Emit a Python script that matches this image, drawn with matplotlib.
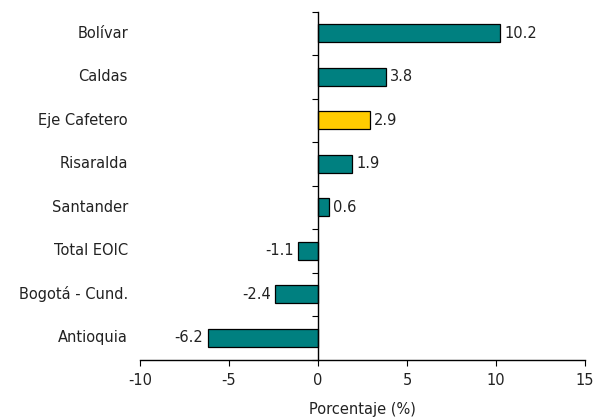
import numpy as np
import matplotlib
matplotlib.use('Agg')
import matplotlib.pyplot as plt
import matplotlib.transforms as mtransforms

# bottom to top
regions = ['Antioquia', 'Bogotá - Cund.', 'Total EOIC', 'Santander',
           'Risaralda', 'Eje Cafetero', 'Caldas', 'Bolívar']
values = [-6.2, -2.4, -1.1, 0.6, 1.9, 2.9, 3.8, 10.2]
highlight = 'Eje Cafetero'
x_ticks = [-10, -5, 0, 5, 10, 15]

teal = '#008080'
yellow = '#FFCC00'
txt = '#222222'
fs = 10.5

fig = plt.figure(figsize=(6.08, 4.18), dpi=100)
ax = fig.add_axes([140 / 608, 1 - 359.5 / 418, 445 / 608, 348 / 418])

y = np.arange(len(regions))
colors = [yellow if r == highlight else teal for r in regions]
ax.barh(y, values, height=0.42, color=colors, edgecolor='black', linewidth=0.9, zorder=2)

ax.set_xlim(-10, 15)
ax.set_ylim(-0.5, len(regions) - 0.5)

for s in ['top', 'right']:
    ax.spines[s].set_visible(False)
ax.spines['left'].set_position(('data', 0))
ax.spines['left'].set_linewidth(1.0)
ax.spines['bottom'].set_linewidth(1.0)

ax.set_xticks(x_ticks)
ax.set_xticklabels([str(t) for t in x_ticks], fontsize=fs, color=txt)
ax.tick_params(axis='x', direction='out', length=4, width=0.8, pad=6)

# y tick marks between categories, labels drawn separately at left
ax.set_yticks(np.arange(-0.5, len(regions), 1.0))
ax.set_yticklabels([])
ax.tick_params(axis='y', direction='out', length=4, width=0.8)

trans = mtransforms.blended_transform_factory(ax.transAxes, ax.transData)
for yi, name in zip(y, regions):
    ax.text(-0.027, yi, name, transform=trans, ha='right', va='center',
            fontsize=fs, color=txt)

for yi, v in zip(y, values):
    if v >= 0:
        ax.text(v + 0.25, yi, f'{v:.1f}', ha='left', va='center', fontsize=fs, color=txt)
    else:
        ax.text(v - 0.25, yi, f'{v:.1f}', ha='right', va='center', fontsize=fs, color=txt)

ax.set_xlabel('Porcentaje (%)', fontsize=fs, color=txt, labelpad=10)

fig.savefig('out.png', dpi=100)
